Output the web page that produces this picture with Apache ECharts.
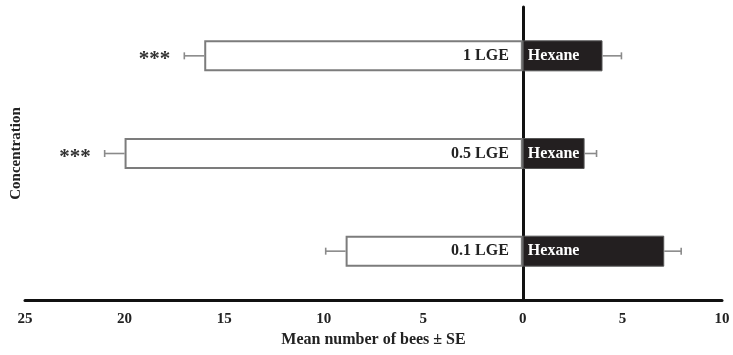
<!DOCTYPE html>
<html>
<head>
<meta charset="utf-8">
<script src="https://cdn.jsdelivr.net/npm/echarts@6/dist/echarts.min.js"></script>
<style>
  html, body { margin: 0; padding: 0; background: #fff; }
  #chart { width: 733px; height: 355px; }
</style>
</head>
<body>
<div id="chart"></div>
<script>
// Concentrations, listed bottom to top
const concentrations = ['0.1 LGE', '0.5 LGE', '1 LGE'];
// Mean number of bees choosing the extract side (plotted to the left)
const extractMeans = [8.9, 20.0, 16.0];
const extractSE = [1.0, 1.0, 1.0];
// Mean number of bees choosing the hexane control side (plotted to the right)
const hexaneMeans = [7.1, 3.1, 4.0];
const hexaneSE = [0.85, 0.6, 0.95];
// Significance markers per concentration
const significance = ['', '***', '***'];
const xTicks = { min: -25, max: 10, interval: 5 };

const FONT = '"Liberation Serif", "DejaVu Serif", serif';

const chart = echarts.init(document.getElementById('chart'));

// Error bar data: [signed bar end, signed SE, category index, marker]
const errData = [];
concentrations.forEach((c, i) => {
  errData.push([-extractMeans[i], -extractSE[i], i, significance[i]]);
  errData.push([hexaneMeans[i], hexaneSE[i], i, '']);
});

function renderError(params, api) {
  const end = api.value(0);
  const se = api.value(1);
  const cat = api.value(2);
  const mark = errData[params.dataIndex][3];
  const p0 = api.coord([end, cat]);
  const p1 = api.coord([end + se, cat]);
  const capH = 7;
  const style = { stroke: '#8a8a8a', lineWidth: 1.6 };
  const children = [
    { type: 'line', shape: { x1: p0[0], y1: p0[1], x2: p1[0], y2: p1[1] }, style },
    { type: 'line', shape: { x1: p1[0], y1: p1[1] - capH / 2, x2: p1[0], y2: p1[1] + capH / 2 }, style }
  ];
  if (mark) {
    children.push({
      type: 'text',
      style: {
        text: mark, x: p1[0] - 14, y: p1[1] + 4,
        align: 'right', verticalAlign: 'middle',
        font: 'bold 21px ' + FONT, fill: '#333'
      }
    });
  }
  return { type: 'group', children };
}

chart.setOption({
  animation: false,
  backgroundColor: '#fff',
  grid: { left: 25, right: 11, top: 7, bottom: 55 },
  xAxis: {
    type: 'value',
    min: xTicks.min, max: xTicks.max, interval: xTicks.interval,
    name: 'Mean number of bees ± SE',
    nameLocation: 'middle',
    nameGap: 32,
    nameTextStyle: { fontFamily: FONT, fontWeight: 'bold', fontSize: 16, color: '#222' },
    axisLine: { show: true, onZero: false, lineStyle: { color: '#111', width: 3 } },
    axisTick: { show: false },
    splitLine: { show: false },
    axisLabel: {
      margin: 12,
      fontFamily: FONT, fontWeight: 'bold', fontSize: 15, color: '#222',
      formatter: v => String(Math.abs(v))
    }
  },
  yAxis: [
    {
      type: 'category',
      data: concentrations,
      axisLine: { show: true, onZero: true, lineStyle: { color: '#111', width: 3 } },
      axisTick: { show: false },
      axisLabel: { show: false },
      splitLine: { show: false }
    },
    {
      type: 'category',
      data: concentrations,
      position: 'left',
      name: 'Concentration',
      nameLocation: 'middle',
      nameGap: 1,
      nameTextStyle: { fontFamily: FONT, fontWeight: 'bold', fontSize: 15, color: '#222' },
      axisLine: { show: false, onZero: false },
      axisTick: { show: false },
      axisLabel: { show: false },
      splitLine: { show: false }
    }
  ],
  series: [
    {
      name: 'Extract',
      type: 'bar',
      barWidth: 31,
      barGap: '-100%',
      data: extractMeans.map(v => -v),
      itemStyle: { color: '#fff', borderColor: '#7c7c7c', borderWidth: 2 },
      label: {
        show: true, position: 'insideRight', distance: 14,
        formatter: p => concentrations[p.dataIndex],
        fontFamily: FONT, fontWeight: 'bold', fontSize: 16, color: '#222'
      },
      z: 2
    },
    {
      name: 'Hexane',
      type: 'bar',
      barWidth: 31,
      barGap: '-100%',
      data: hexaneMeans,
      itemStyle: { color: '#231f20', borderColor: '#555', borderWidth: 1 },
      label: {
        show: true, position: 'insideLeft', distance: 5,
        formatter: 'Hexane',
        fontFamily: FONT, fontWeight: 'bold', fontSize: 16, color: '#fff'
      },
      z: 2
    },
    {
      type: 'custom',
      renderItem: renderError,
      data: errData.map(d => [d[0], d[1], d[2]]),
      encode: { x: [0, 1], y: 2 },
      z: 3
    }
  ]
});
</script>
</body>
</html>
